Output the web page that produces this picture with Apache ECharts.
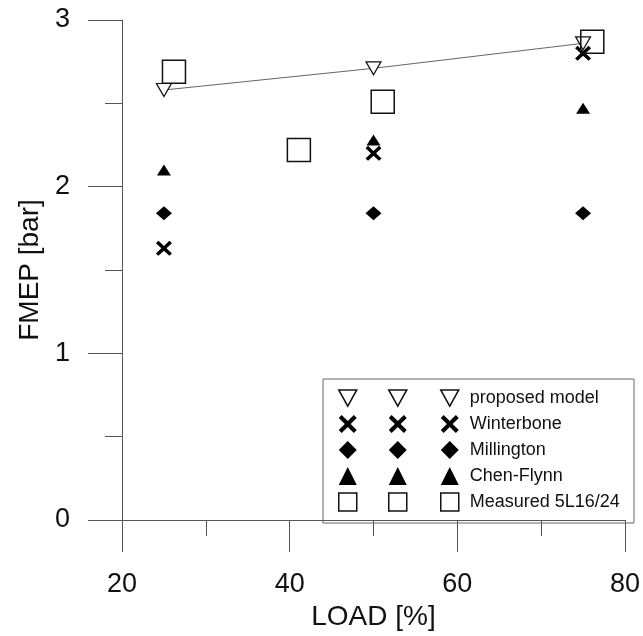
<!DOCTYPE html>
<html>
<head>
<meta charset="utf-8">
<title>FMEP vs LOAD</title>
<script src="https://cdn.jsdelivr.net/npm/echarts@6/dist/echarts.min.js"></script>
<style>
  html, body { margin: 0; padding: 0; background: #fff; }
  #chart { width: 643px; height: 636px; }
</style>
</head>
<body>
<div id="chart"></div>
<script>
// data
var loads = [25, 50, 75];
var proposed = [2.58, 2.71, 2.86];
var winterbone = [1.63, 2.20, 2.80];
var millington = [1.84, 1.84, 1.84];
var chenFlynn = [2.10, 2.28, 2.47];
var measuredLoad = [26.2, 41.1, 51.1, 76.1];
var measured = [2.69, 2.22, 2.51, 2.87];
var xTicks = [20, 40, 60, 80];
var yTicks = [0, 1, 2, 3];
var names = ['proposed model', 'Winterbone', 'Millington', 'Chen-Flynn', 'Measured 5L16/24'];

var font = "'Liberation Sans', Arial, sans-serif";
var triDown = 'path://M0,0 L10,0 L5,9 Z';
var cross = 'path://M0,1.6 L1.6,0 L5,3.4 L8.4,0 L10,1.6 L6.6,5 L10,8.4 L8.4,10 L5,6.6 L1.6,10 L0,8.4 L3.4,5 Z';
var icons = [triDown, cross, 'diamond', 'triangle', 'rect'];
var hollow = { color: '#fff', borderColor: '#111', borderWidth: 1.5, opacity: 1 };
var filled = { color: '#000', borderWidth: 0, opacity: 1 };
var styles = [hollow, filled, filled, filled, hollow];

function pairs(xs, ys) {
    return xs.map(function (x, i) { return [x, ys[i]]; });
}

function legendItems() {
    return names.map(function (n, i) {
        return { name: n, icon: icons[i], itemStyle: styles[i] };
    });
}

// three columns of symbols, only the last one carries the names
function makeLegend(left, withText) {
    return {
        orient: 'vertical',
        left: left,
        top: 385,
        padding: 0,
        itemGap: 0,
        itemWidth: 18,
        itemHeight: 18,
        selectedMode: false,
        formatter: withText ? '{name}' : ' ',
        textStyle: {
            fontFamily: font,
            fontSize: 18,
            color: '#111',
            lineHeight: 26,
            padding: [0, 0, 0, 6]
        },
        data: legendItems()
    };
}

var axisGrey = '#555';

var chart = echarts.init(document.getElementById('chart'));
var option = {
    animation: false,
    backgroundColor: '#fff',
    grid: { left: 122, right: 17, top: 20, bottom: 115 },
    legend: [makeLegend(338, false), makeLegend(388, false), makeLegend(440, true)],
    graphic: [{
        type: 'rect',
        shape: { x: 323, y: 379, width: 311, height: 144 },
        style: { fill: 'none', stroke: '#666', lineWidth: 1 },
        silent: true
    }],
    xAxis: {
        type: 'value',
        min: xTicks[0],
        max: xTicks[xTicks.length - 1],
        interval: xTicks[1] - xTicks[0],
        name: 'LOAD [%]',
        nameLocation: 'middle',
        nameGap: 83,
        nameTextStyle: { fontFamily: font, fontSize: 28, color: '#111' },
        axisLine: { onZero: false, lineStyle: { color: axisGrey, width: 1 } },
        axisTick: { length: 32, lineStyle: { color: axisGrey } },
        minorTick: { show: true, splitNumber: 2, length: 16, lineStyle: { color: axisGrey } },
        splitLine: { show: false },
        axisLabel: { fontFamily: font, fontSize: 27, color: '#111', margin: 51 }
    },
    yAxis: {
        type: 'value',
        min: yTicks[0],
        max: yTicks[yTicks.length - 1],
        interval: yTicks[1] - yTicks[0],
        name: 'FMEP [bar]',
        nameLocation: 'middle',
        nameGap: 78,
        nameTextStyle: { fontFamily: font, fontSize: 28, color: '#111' },
        axisLine: { show: true, onZero: false, lineStyle: { color: axisGrey, width: 1 } },
        axisTick: { show: true, length: 34, lineStyle: { color: axisGrey } },
        minorTick: { show: true, splitNumber: 2, length: 17, lineStyle: { color: axisGrey } },
        splitLine: { show: false },
        axisLabel: { fontFamily: font, fontSize: 27, color: '#111', margin: 52 }
    },
    series: [
        {
            name: 'model line',
            type: 'line',
            data: pairs(loads, proposed),
            symbol: 'none',
            silent: true,
            z: 1,
            lineStyle: { color: '#666', width: 1 }
        },
        {
            name: names[0],
            type: 'scatter',
            data: pairs(loads, proposed),
            symbol: triDown,
            symbolSize: [15, 13],
            itemStyle: { color: '#fff', borderColor: '#111', borderWidth: 1.2, opacity: 1 },
            z: 3
        },
        {
            name: names[1],
            type: 'scatter',
            data: pairs(loads, winterbone),
            symbol: cross,
            symbolSize: [16, 15],
            itemStyle: { color: '#000', opacity: 1 },
            z: 4
        },
        {
            name: names[2],
            type: 'scatter',
            data: pairs(loads, millington),
            symbol: 'diamond',
            symbolSize: [16, 14],
            itemStyle: { color: '#000', opacity: 1 },
            z: 4
        },
        {
            name: names[3],
            type: 'scatter',
            data: pairs(loads, chenFlynn),
            symbol: 'triangle',
            symbolSize: [14, 11],
            itemStyle: { color: '#000', opacity: 1 },
            z: 4
        },
        {
            name: names[4],
            type: 'scatter',
            data: pairs(measuredLoad, measured),
            symbol: 'rect',
            symbolSize: 23,
            itemStyle: { color: 'rgba(255,255,255,0)', borderColor: '#111', borderWidth: 1.5, opacity: 1 },
            z: 5
        }
    ]
};
chart.setOption(option);
window.onresize = function () {
    chart.resize();
};
</script>
</body>
</html>
